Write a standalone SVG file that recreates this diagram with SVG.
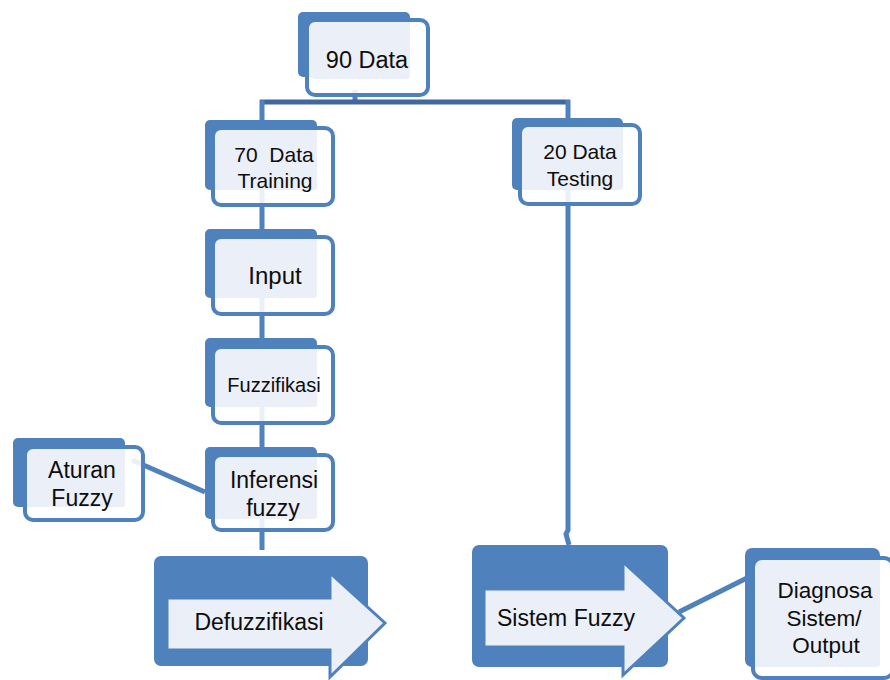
<svg xmlns="http://www.w3.org/2000/svg" width="890" height="680" viewBox="0 0 890 680">
<style>
.back{fill:#4F81BD}
.frame{fill:#FFFFFF;fill-opacity:0.88;stroke:#4F81BD;stroke-width:4}
.light{fill:#EBEFF7}
.arrow{fill:#EBEFF7;stroke:#4F81BD;stroke-width:3;stroke-linejoin:miter}
.conn{stroke:#4F81BD;stroke-width:5;fill:none}
.bar{stroke:#41679E;stroke-width:5;fill:none}
text{font-family:"Liberation Sans",Arial,sans-serif;fill:#0D0D0D;text-anchor:middle}
</style>
<rect width="890" height="680" fill="#FFFFFF"/>
<g id="connectors">
<line class="conn" x1="355" y1="90" x2="355" y2="102"/>
<line class="bar" x1="260" y1="102" x2="570" y2="102"/>
<line class="conn" x1="262" y1="100" x2="262" y2="550"/>
<polyline class="conn" points="568,100 568,530 566,534 569,545"/>
<line class="conn" x1="132" y1="460" x2="205" y2="492"/>
<line class="conn" x1="679" y1="612" x2="747" y2="578"/>
</g>
<g id="n90">
<rect class="back" x="298" y="12" width="112" height="65" rx="5"/>
<rect class="frame" x="307" y="20" width="121" height="75" rx="8"/>
<rect class="light" x="312" y="25" width="98" height="54" rx="3"/>
<text x="367" y="68" font-size="23.5">90 Data</text>
</g>
<g id="n70">
<rect class="back" x="205" y="120" width="112" height="70" rx="5"/>
<rect class="frame" x="213" y="128" width="120" height="77" rx="8"/>
<rect class="light" x="218" y="133" width="99" height="57" rx="3"/>
<text x="274" y="162" font-size="21" style="white-space:pre">70  Data</text>
<text x="275" y="188" font-size="21">Training</text>
</g>
<g id="n20">
<rect class="back" x="512" y="118" width="111" height="72" rx="5"/>
<rect class="frame" x="520" y="125" width="120" height="79" rx="8"/>
<rect class="light" x="525" y="131" width="98" height="59" rx="3"/>
<text x="580" y="159" font-size="21">20 Data</text>
<text x="580" y="186" font-size="21">Testing</text>
</g>
<g id="nInput">
<rect class="back" x="205" y="229" width="112" height="69" rx="5"/>
<rect class="frame" x="213" y="237" width="120" height="77" rx="8"/>
<rect class="light" x="218" y="242" width="99" height="56" rx="3"/>
<text x="275" y="284" font-size="24">Input</text>
</g>
<g id="nFuzzifikasi">
<rect class="back" x="205" y="338" width="112" height="69" rx="5"/>
<rect class="frame" x="213" y="347" width="120" height="76" rx="8"/>
<rect class="light" x="218" y="352" width="99" height="55" rx="3"/>
<text x="274" y="392" font-size="20">Fuzzifikasi</text>
</g>
<g id="nInferensi">
<rect class="back" x="205" y="447" width="112" height="72" rx="5"/>
<rect class="frame" x="213" y="455" width="120" height="75" rx="8"/>
<rect class="light" x="218" y="460" width="99" height="59" rx="3"/>
<text x="274" y="488" font-size="23">Inferensi</text>
<text x="273" y="516" font-size="23">fuzzy</text>
</g>
<g id="nAturan">
<rect class="back" x="13" y="438" width="112" height="69" rx="5"/>
<rect class="frame" x="25" y="447" width="118" height="73" rx="8"/>
<rect class="light" x="29" y="452" width="96" height="55" rx="3"/>
<text x="82" y="478" font-size="23">Aturan</text>
<text x="82" y="506" font-size="23">Fuzzy</text>
</g>
<g id="nDefuzzifikasi">
<rect class="back" x="154" y="556" width="214" height="110" rx="7"/>
<polygon class="arrow" points="167,598 330,598 330,573 385,623 330,677 330,650 167,650"/>
<text x="259" y="630" font-size="23">Defuzzifikasi</text>
</g>
<g id="nSistem">
<rect class="back" x="472" y="545" width="196" height="122" rx="7"/>
<polygon class="arrow" points="484,589 623,589 623,562 684,618 623,675 623,647 484,647"/>
<text x="566" y="626" font-size="23">Sistem Fuzzy</text>
</g>
<g id="nDiagnosa">
<rect class="back" x="745" y="548" width="135" height="119" rx="7"/>
<rect class="frame" x="753" y="558" width="140" height="120" rx="9"/>
<rect class="light" x="758" y="563" width="122" height="104" rx="4"/>
<text x="825" y="598" font-size="22.5">Diagnosa</text>
<text x="824" y="626" font-size="22.5">Sistem/</text>
<text x="826" y="653" font-size="22.5">Output</text>
</g>
</svg>
